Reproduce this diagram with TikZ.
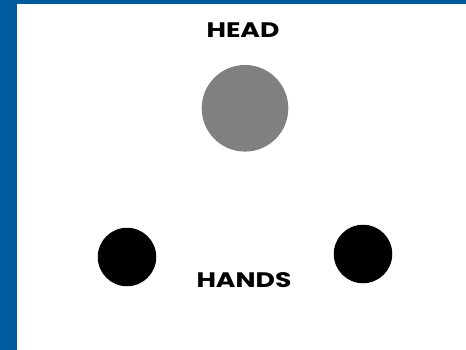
\documentclass[tikz,border=0pt]{standalone}
\usepackage{fontspec}
\usepackage{xcolor}
\usepackage{tikz}
\usetikzlibrary{shapes.geometric, positioning, backgrounds}
\newfontfamily\labelfont{Poppins}
\definecolor{frameblue}{RGB}{0,90,158}
\definecolor{headgray}{RGB}{128,128,128}
\tikzset{
  label/.style={font=\labelfont\bfseries\fontsize{21}{21}\selectfont, inner sep=0pt, anchor=base, xscale=1.27},
  head/.style={circle, fill=headgray, minimum size=86.6, inner sep=0pt},
  hand/.style={circle, fill=black, minimum size=58.5, inner sep=0pt}
}
\begin{document}
\begin{tikzpicture}[x=1pt, y=-1pt]
\useasboundingbox (0,0) rectangle (466,350);
% frame
\fill[frameblue] (0,0) rectangle (466,350);
\fill[white] (17,4) rectangle (466,350);

% HEAD
\node[label] (head_t) at (243,37.3) {HEAD};
\node[head] (head) at (245,108.3) {};

% HANDS
\node[hand] (lhand) at (127,257) {};
\node[hand] (rhand) at (363,254) {};
\node[label] (hands_t) at (244,287.3) {HANDS};
\end{tikzpicture}
\end{document}
